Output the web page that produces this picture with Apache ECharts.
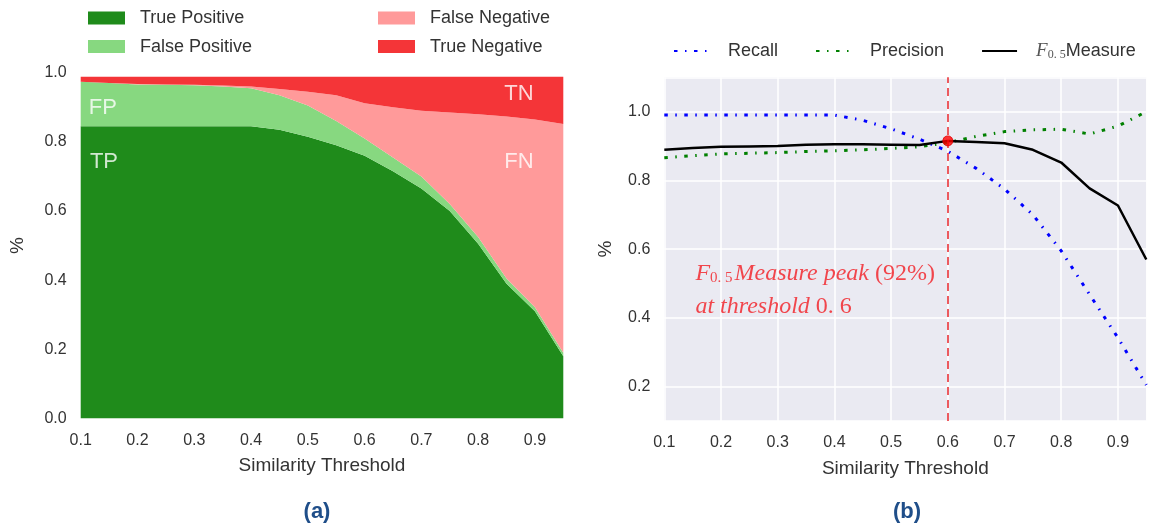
<!DOCTYPE html>
<html>
<head>
<meta charset="utf-8">
<script src="https://cdn.jsdelivr.net/npm/echarts@6/dist/echarts.min.js"></script>
<style>
html,body{margin:0;padding:0;background:#fff;}
#chart{width:1155px;height:526px;}
</style>
</head>
<body>
<div id="chart"></div>
<script>
// ---------- data ----------
const thresholds    = [0.10,0.15,0.20,0.25,0.30,0.35,0.40,0.45,0.50,0.55,0.60,0.65,0.70,0.75,0.80,0.85,0.90,0.95];
// (a) stacked rates
const truePositive  = [0.845,0.845,0.845,0.845,0.845,0.845,0.845,0.835,0.815,0.790,0.760,0.715,0.665,0.600,0.505,0.390,0.310,0.180];
const falsePositive = [0.129,0.125,0.121,0.120,0.119,0.115,0.110,0.100,0.090,0.070,0.050,0.040,0.035,0.020,0.020,0.015,0.012,0.010];
const falseNegative = [0.000,0.000,0.001,0.001,0.001,0.003,0.005,0.018,0.040,0.075,0.102,0.145,0.190,0.265,0.355,0.468,0.543,0.662];
const trueNegative  = [0.014,0.018,0.021,0.022,0.023,0.025,0.028,0.035,0.043,0.053,0.076,0.088,0.098,0.103,0.108,0.115,0.123,0.136];
// (b) curves
const recall        = [0.990,0.990,0.990,0.990,0.990,0.990,0.990,0.975,0.950,0.920,0.885,0.835,0.775,0.700,0.595,0.468,0.342,0.205];
const precision     = [0.866,0.872,0.877,0.879,0.881,0.884,0.886,0.889,0.893,0.898,0.910,0.928,0.942,0.947,0.949,0.935,0.958,1.000];
const fMeasure      = [0.889,0.894,0.898,0.899,0.900,0.904,0.905,0.905,0.904,0.903,0.915,0.912,0.908,0.889,0.852,0.777,0.727,0.570];
const peakPoint     = [0.6, 0.915];
// annotation anchors (data coordinates)
const areaLabels    = [{name:'FP', value:[0.139,0.898]}, {name:'TP', value:[0.141,0.743]},
                       {name:'TN', value:[0.872,0.940]}, {name:'FN', value:[0.872,0.741]}];
const noteAnchor    = [0.154, 0.481];

// ---------- helpers ----------
const categories = thresholds.map(t => t.toFixed(2));
const pairs = arr => thresholds.map((t,i)=>[t, arr[i]]);
const SANS = "'Liberation Sans', Arial, sans-serif";
const SERIF = "'Liberation Serif', 'Times New Roman', serif";
const TXT = '#333';
const NOTE = '#f21c22';
const fmt1 = v => (+v).toFixed(1);

const COL_TP = '#1f8b1b', COL_FP = '#87d880', COL_FN = '#ff9a9a', COL_TN = '#f43538';
const dashDot = [3.5,7.5,1.5,7.5];

function areaSeries(name, data, color){
  return {name, type:'line', stack:'rates', xAxisIndex:0, yAxisIndex:0,
    data:data, symbol:'none', showSymbol:false,
    lineStyle:{width:0, color}, itemStyle:{color},
    areaStyle:{color, opacity:1}};
}

const chart = echarts.init(document.getElementById('chart'), null, {renderer:'canvas'});
chart.setOption({
  animation:false,
  backgroundColor:'#fff',
  textStyle:{fontFamily:SANS},
  grid:[
    {left:80.7, right:591.7, top:72.7, bottom:107.5, show:false, containLabel:false},
    {left:664.3, right:8.7, top:77.3, bottom:105, show:true, backgroundColor:'#eaeaf2', borderWidth:0, containLabel:false}
  ],
  legend:[
    {data:[{name:'True Positive', icon:'rect'},{name:'False Positive', icon:'rect'}],
     orient:'vertical', left:83, top:3, itemWidth:37, itemHeight:13, itemGap:8.6,
     textStyle:{fontFamily:SANS, fontSize:18, color:TXT, lineHeight:20, padding:[0,0,0,10]}},
    {data:[{name:'False Negative', icon:'rect'},{name:'True Negative', icon:'rect'}],
     orient:'vertical', left:373, top:3, itemWidth:37, itemHeight:13, itemGap:8.6,
     textStyle:{fontFamily:SANS, fontSize:18, color:TXT, lineHeight:20, padding:[0,0,0,10]}},
    {data:['Recall','Precision','F0.5Measure'],
     orient:'horizontal', left:668, top:36, itemWidth:35, itemHeight:14, itemGap:37,
     itemStyle:{opacity:0},
     formatter: n => n === 'F0.5Measure' ? '{f|F}{s|0. 5}{m|Measure}' : n,
     textStyle:{fontFamily:SANS, fontSize:18, color:TXT, lineHeight:20, padding:[0,0,0,14],
       rich:{
         f:{fontFamily:SERIF, fontStyle:'italic', fontSize:19, color:'#555'},
         s:{fontFamily:SERIF, fontSize:12, color:'#555', padding:[7,0,0,0]},
         m:{fontFamily:SANS, fontSize:18, color:TXT}
       }}}
  ],
  xAxis:[
    {type:'category', gridIndex:0, data:categories, boundaryGap:false,
     axisLine:{show:false}, axisTick:{show:false}, splitLine:{show:false},
     axisLabel:{formatter:fmt1, interval:1, fontSize:16, color:TXT, margin:14},
     name:'Similarity Threshold', nameLocation:'middle', nameGap:38,
     nameTextStyle:{fontSize:19, color:TXT}},
    {type:'value', gridIndex:1, min:0.1, max:0.95, interval:0.1,
     axisLine:{show:false}, axisTick:{show:false},
     splitLine:{show:true, lineStyle:{color:'#ffffff', width:1.5}},
     axisLabel:{formatter:fmt1, showMaxLabel:false, fontSize:16, color:TXT, margin:14},
     name:'Similarity Threshold', nameLocation:'middle', nameGap:38,
     nameTextStyle:{fontSize:19, color:TXT}},
    {type:'value', gridIndex:0, min:0.1, max:0.95, show:false}
  ],
  yAxis:[
    {type:'value', gridIndex:0, min:0, max:1, interval:0.2,
     axisLine:{show:false}, axisTick:{show:false}, splitLine:{show:false},
     axisLabel:{formatter:fmt1, fontSize:16, color:TXT, margin:14},
     name:'%', nameLocation:'middle', nameGap:53, nameTextStyle:{fontSize:19, color:TXT}},
    {type:'value', gridIndex:1, min:0.1, max:1.1, splitNumber:5,
     axisLine:{show:false}, axisTick:{show:false},
     splitLine:{show:true, lineStyle:{color:'#ffffff', width:1.5}},
     axisLabel:{formatter:fmt1, showMinLabel:false, showMaxLabel:false, fontSize:16, color:TXT, margin:14},
     name:'%', nameLocation:'middle', nameGap:49, nameTextStyle:{fontSize:19, color:TXT}}
  ],
  series:[
    areaSeries('True Positive', truePositive, COL_TP),
    areaSeries('False Positive', falsePositive, COL_FP),
    areaSeries('False Negative', falseNegative, COL_FN),
    areaSeries('True Negative', trueNegative, COL_TN),
    {name:'areaLabels', type:'scatter', xAxisIndex:2, yAxisIndex:0, data:areaLabels,
     symbolSize:1, itemStyle:{color:'rgba(0,0,0,0)'}, silent:true, z:5,
     label:{show:true, position:'inside', formatter:'{b}', color:'#ffffff', fontSize:22, fontFamily:SANS}},

    {name:'Recall', type:'line', xAxisIndex:1, yAxisIndex:1, data:pairs(recall),
     symbol:'none', showSymbol:false, itemStyle:{color:'#0000ff'},
     lineStyle:{color:'#0000ff', width:3, type:dashDot}},
    {name:'Precision', type:'line', xAxisIndex:1, yAxisIndex:1, data:pairs(precision),
     symbol:'none', showSymbol:false, itemStyle:{color:'#008000'},
     lineStyle:{color:'#008000', width:3, type:dashDot}},
    {name:'F0.5Measure', type:'line', xAxisIndex:1, yAxisIndex:1, data:pairs(fMeasure),
     symbol:'none', showSymbol:false, itemStyle:{color:'#000000'},
     lineStyle:{color:'#000000', width:2.5}},
    {name:'peak', type:'scatter', xAxisIndex:1, yAxisIndex:1, data:[peakPoint],
     symbolSize:10, itemStyle:{color:'#ff0000', borderColor:'#e00000', borderWidth:1}, z:10, silent:true,
     markLine:{silent:true, symbol:['none','none'], label:{show:false},
       lineStyle:{color:'#e8262b', type:[8,5], width:1.5},
       data:[{xAxis:peakPoint[0]}]}},
    {name:'note', type:'scatter', xAxisIndex:1, yAxisIndex:1, data:[noteAnchor],
     symbolSize:1, itemStyle:{color:'rgba(0,0,0,0)'}, silent:true, z:6,
     label:{show:true, position:'right', distance:0,
       formatter:'{F|F}{s|0. 5}{i|Measure peak }{r|(92%)}\n{i|at threshold }{r|0. 6}',
       rich:{
         F:{fontFamily:SERIF, fontStyle:'italic', fontSize:24, color:NOTE, lineHeight:33},
         s:{fontFamily:SERIF, fontSize:15, color:NOTE, padding:[9,2,0,0], lineHeight:33},
         i:{fontFamily:SERIF, fontStyle:'italic', fontSize:24, color:NOTE, lineHeight:33},
         r:{fontFamily:SERIF, fontSize:24, color:NOTE, lineHeight:33}
       }}}
  ],
  graphic:[
    {type:'text', x:317, y:512, style:{text:'(a)', align:'center', verticalAlign:'middle',
      font:"bold 22px 'Liberation Sans', Arial, sans-serif", fill:'#1f4e89'}},
    {type:'text', x:907, y:512, style:{text:'(b)', align:'center', verticalAlign:'middle',
      font:"bold 22px 'Liberation Sans', Arial, sans-serif", fill:'#1f4e89'}}
  ]
});
</script>
</body>
</html>
